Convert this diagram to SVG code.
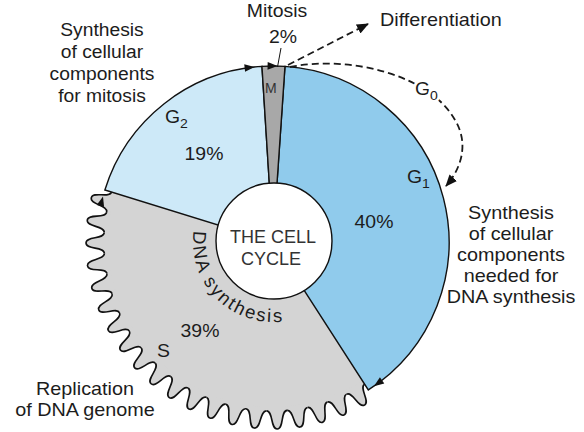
<svg xmlns="http://www.w3.org/2000/svg" xmlns:xlink="http://www.w3.org/1999/xlink" width="584" height="432" viewBox="0 0 584 432">
<style>
.t{font-family:"Liberation Sans",Arial,sans-serif;fill:#1c1c1c;font-size:18px}
.sub{font-size:13px}
.edge{stroke:#111;stroke-width:1.4}
.dash{stroke:#1a1a1a;stroke-width:1.8;stroke-dasharray:7 4;fill:none}
.head{fill:#111}
</style>
<defs>
<marker id="ah" viewBox="0 0 12 10" refX="11" refY="5" markerWidth="12" markerHeight="10" markerUnits="userSpaceOnUse" orient="auto">
<path d="M0,0 L12,5 L0,10 Z" fill="#111"/>
</marker>
<g id="period">
<path d="M169,0 C169,7 187.08,4.43 186.65,11.42 C186.22,18.41 168.59,13.65 167.74,20.60 L163.77,20.11 A165,165 0 0 0 165,0 Z" fill="#d4d4d4"/>
<path d="M169,0 C169,7 187.08,4.43 186.65,11.42 C186.22,18.41 168.59,13.65 167.74,20.60" fill="none" stroke="#111" stroke-width="1.6"/>
</g>
<path id="dnaArc" d="M193.8,230.9 A80,80 0 0 0 293.7,319.3" fill="none"/>
<polygon id="tri" points="0,0 -10,-3.8 -10,3.8"/>
</defs>
<rect width="584" height="432" fill="#fff"/>

<g id="phase-S">
<path d="M273,242 L364.0,383.2 A168,168 0 0 1 112.51,192.32 Z" fill="#d4d4d4"/>
<g transform="translate(273,242)">
<use xlink:href="#period" transform="rotate(57.2)"/>
<use xlink:href="#period" transform="rotate(64.2)"/>
<use xlink:href="#period" transform="rotate(71.2)"/>
<use xlink:href="#period" transform="rotate(78.2)"/>
<use xlink:href="#period" transform="rotate(85.2)"/>
<use xlink:href="#period" transform="rotate(92.2)"/>
<use xlink:href="#period" transform="rotate(99.2)"/>
<use xlink:href="#period" transform="rotate(106.2)"/>
<use xlink:href="#period" transform="rotate(113.2)"/>
<use xlink:href="#period" transform="rotate(120.2)"/>
<use xlink:href="#period" transform="rotate(127.2)"/>
<use xlink:href="#period" transform="rotate(134.2)"/>
<use xlink:href="#period" transform="rotate(141.2)"/>
<use xlink:href="#period" transform="rotate(148.2)"/>
<use xlink:href="#period" transform="rotate(155.2)"/>
<use xlink:href="#period" transform="rotate(162.2)"/>
<use xlink:href="#period" transform="rotate(169.2)"/>
<use xlink:href="#period" transform="rotate(176.2)"/>
<use xlink:href="#period" transform="rotate(183.2)"/>
<use xlink:href="#period" transform="rotate(190.2)"/>
</g>
<g transform="translate(200,337) scale(1.08,1)"><text class="t" text-anchor="middle">39%</text></g>
<g transform="translate(157,357) scale(1.08,1)"><text class="t">S</text></g>
</g>

<g id="phase-G1">
<path d="M273,242 L284.97,66.41 A176,176 0 0 1 368.34,389.95 Z" fill="#90cbec" class="edge"/>
<g transform="translate(374,228) scale(1.08,1)"><text class="t" text-anchor="middle">40%</text></g>
<g transform="translate(407,183) scale(1.08,1)"><text class="t">G<tspan class="sub" dy="5">1</tspan></text></g>
</g>

<g id="phase-G2">
<path d="M273,242 L104.87,189.95 A176,176 0 0 1 261.95,66.35 Z" fill="#cde9f8" class="edge"/>
<g transform="translate(204,160) scale(1.08,1)"><text class="t" text-anchor="middle">19%</text></g>
<g transform="translate(165,123) scale(1.08,1)"><text class="t">G<tspan class="sub" dy="5">2</tspan></text></g>
</g>

<g id="phase-M">
<path d="M273,242 L261.95,66.35 A176,176 0 0 1 284.97,66.41 Z" fill="#a8a8a8" class="edge"/>
<text class="t" x="265" y="93" style="font-size:14px;fill:#333">M</text>
</g>

<g id="center">
<circle cx="274" cy="241" r="58" fill="#fff" class="edge"/>
<text class="t" text-anchor="middle" style="fill:#333"><tspan x="273" y="243">THE CELL</tspan><tspan x="271" y="265">CYCLE</tspan></text>
<text class="t" style="font-size:18.5px"><textPath xlink:href="#dnaArc" textLength="146" lengthAdjust="spacing">DNA synthesis</textPath></text>
</g>

<g id="connectors">
<line x1="281" y1="48" x2="277.5" y2="67" stroke="#111" stroke-width="1"/>
<path class="dash" d="M288,65 L368,24" marker-end="url(#ah)"/>
<path class="dash" d="M290,67 C350,55 430,75 455,120 C470,145 460,170 446,186" marker-end="url(#ah)"/>
<use xlink:href="#tri" class="head" transform="translate(254.6,67.0) rotate(354)"/>
<use xlink:href="#tri" class="head" transform="translate(277.6,66.1) rotate(1.5)"/>
<use xlink:href="#tri" class="head" transform="translate(373.9,386.2) rotate(145)"/>
<use xlink:href="#tri" class="head" transform="translate(103.0,196.4) rotate(285)"/>
</g>

<g id="labels">
<g transform="translate(277,17) scale(1.08,1)"><text class="t" text-anchor="middle">Mitosis</text></g>
<g transform="translate(283,43) scale(1.08,1)"><text class="t" text-anchor="middle">2%</text></g>
<g transform="translate(380,26) scale(1.1,1)"><text class="t">Differentiation</text></g>
<g transform="translate(415,95) scale(1.08,1)"><text class="t" stroke="#fff" stroke-width="5" paint-order="stroke">G<tspan class="sub" dy="5">0</tspan></text></g>
<g transform="translate(102,0) scale(1.07,1)"><text class="t" text-anchor="middle"><tspan x="0" y="36">Synthesis</tspan><tspan x="0" y="58">of cellular</tspan><tspan x="0" y="80">components</tspan><tspan x="0" y="102">for mitosis</tspan></text></g>
<g transform="translate(511,0) scale(1.1,1)"><text class="t" text-anchor="middle"><tspan x="0" y="219">Synthesis</tspan><tspan x="0" y="240">of cellular</tspan><tspan x="0" y="261">components</tspan><tspan x="0" y="282">needed for</tspan><tspan x="0" y="303">DNA synthesis</tspan></text></g>
<g transform="translate(85,0) scale(1.1,1)"><text class="t" text-anchor="middle"><tspan x="0" y="395">Replication</tspan><tspan x="0" y="416">of DNA genome</tspan></text></g>
</g>
</svg>
